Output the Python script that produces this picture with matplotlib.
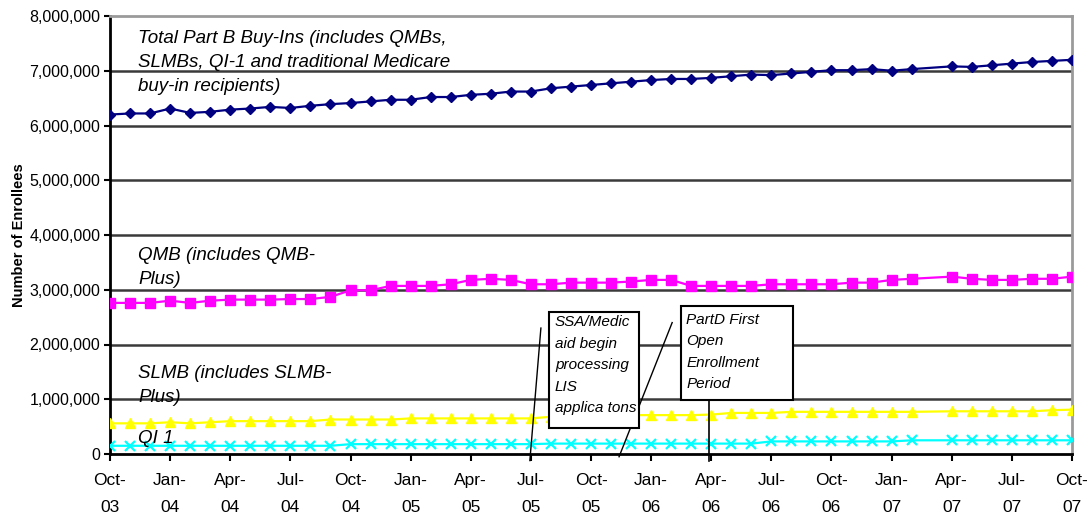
import numpy as np
import pandas as pd
import matplotlib
matplotlib.use("Agg")
import matplotlib.pyplot as plt
from matplotlib.patches import Rectangle

plt.rcParams['font.family'] = ['Liberation Sans', 'DejaVu Sans']

# monthly reports Oct-03 .. Oct-07, no report for Mar-07
all_months = pd.period_range('2003-10', '2007-10', freq='M')
months = all_months[all_months != pd.Period('2007-03', freq='M')]

total = [6.20, 6.22, 6.22, 6.31, 6.23, 6.25, 6.29, 6.31, 6.34, 6.32, 6.36, 6.39,
         6.41, 6.44, 6.47, 6.47, 6.52, 6.52, 6.56, 6.58, 6.62, 6.62, 6.68, 6.71,
         6.74, 6.77, 6.80, 6.83, 6.85, 6.85, 6.87, 6.90, 6.93, 6.92, 6.95, 6.98,
         7.01, 7.01, 7.03, 7.00, 7.03, 7.08, 7.07, 7.10, 7.13, 7.16, 7.18, 7.20]
qmb = [2.76, 2.76, 2.76, 2.80, 2.76, 2.80, 2.82, 2.82, 2.82, 2.83, 2.83, 2.87,
       2.99, 2.99, 3.07, 3.07, 3.07, 3.10, 3.18, 3.20, 3.18, 3.10, 3.10, 3.13,
       3.13, 3.13, 3.15, 3.18, 3.18, 3.07, 3.07, 3.07, 3.07, 3.10, 3.10, 3.10,
       3.10, 3.13, 3.13, 3.18, 3.20, 3.24, 3.20, 3.18, 3.18, 3.20, 3.20, 3.24]
slmb = [0.56, 0.56, 0.56, 0.58, 0.56, 0.58, 0.60, 0.60, 0.60, 0.60, 0.60, 0.63,
        0.63, 0.63, 0.63, 0.65, 0.65, 0.65, 0.65, 0.65, 0.65, 0.65, 0.68, 0.69,
        0.70, 0.70, 0.71, 0.71, 0.71, 0.71, 0.72, 0.75, 0.75, 0.75, 0.77, 0.77,
        0.77, 0.77, 0.77, 0.77, 0.77, 0.78, 0.78, 0.78, 0.78, 0.78, 0.80, 0.81]
qi1 = [0.15, 0.15, 0.15, 0.15, 0.15, 0.15, 0.15, 0.15, 0.15, 0.15, 0.15, 0.15,
       0.18, 0.18, 0.18, 0.18, 0.18, 0.18, 0.18, 0.18, 0.18, 0.18, 0.19, 0.19,
       0.19, 0.19, 0.19, 0.19, 0.19, 0.19, 0.19, 0.19, 0.19, 0.23, 0.23, 0.23,
       0.23, 0.23, 0.23, 0.23, 0.25, 0.25, 0.25, 0.25, 0.25, 0.25, 0.25, 0.25]

x = np.array([(m - all_months[0]).n for m in months])
tick_months = all_months[::3]
tick_x = [(m - all_months[0]).n for m in tick_months]
tick_labels = [m.strftime('%b-\n%y') for m in tick_months]

fig = plt.figure(figsize=(10.89, 5.16), dpi=100)
ax = fig.add_axes([110/1089, (516-454)/516, (1072-110)/1089, (454-16)/516])

ax.plot(x, np.array(total)*1e6, color='#000080', lw=1.6, marker='D', ms=5.5, zorder=5)
ax.plot(x, np.array(qmb)*1e6, color='#FF00FF', lw=1.6, marker='s', ms=6.5, zorder=5)
ax.plot(x, np.array(slmb)*1e6, color='#FFFF00', lw=1.6, marker='^', ms=7, zorder=5)
ax.plot(x, np.array(qi1)*1e6, color='#00FFFF', lw=1.6, marker='x', ms=7, mew=1.6, zorder=5)

ax.set_xlim(0, 48)
ax.set_ylim(0, 8e6)
ax.set_yticks(np.arange(0, 8.1e6, 1e6))
ax.set_yticklabels(['0'] + ['{:,.0f}'.format(v) for v in np.arange(1e6, 8.1e6, 1e6)],
                   fontsize=11.5)
ax.set_xticks(tick_x)
ax.set_xticklabels(tick_labels, fontsize=12.5, linespacing=2.0)
ax.tick_params(axis='x', length=5, width=1.5, pad=9)
ax.tick_params(axis='y', length=4, width=1.5, pad=3)

for v in range(1, 8):
    ax.axhline(v*1e6, color='#3a3a3a', lw=1.8, zorder=1)
ax.spines['top'].set_color('#9a9a9a')
ax.spines['right'].set_color('#9a9a9a')
ax.spines['top'].set_linewidth(2)
ax.spines['right'].set_linewidth(2)
ax.spines['left'].set_linewidth(2)
ax.spines['bottom'].set_linewidth(2)

ax.set_ylabel('Number of Enrollees', fontsize=10.5, fontweight='bold')
ax.yaxis.set_label_coords(-0.087, 0.5)

# series labels
lab = dict(fontsize=13.5, style='italic', va='top', ha='left', linespacing=1.52, zorder=6)
ax.text(1.4, 7.74e6, 'Total Part B Buy-Ins (includes QMBs,\nSLMBs, QI-1 and traditional Medicare\nbuy-in recipients)', **lab)
ax.text(1.4, 3.78e6, 'QMB (includes QMB-\nPlus)', **lab)
ax.text(1.4, 1.63e6, 'SLMB (includes SLMB-\nPlus)', **lab)
ax.text(1.4, 0.44e6, 'QI 1', **lab)

# event markers
ax.plot([21.5, 20.95], [2.30e6, -0.12e6], color='black', lw=1, clip_on=False, zorder=7)
ax.plot([28.05, 25.4], [2.40e6, -0.05e6], color='black', lw=1, clip_on=False, zorder=7)
ax.plot([29.9, 29.9], [0.99e6, -0.12e6], color='black', lw=1.2, clip_on=False, zorder=7)

box = dict(fontsize=11, style='italic', va='top', ha='left', linespacing=1.68, zorder=9)
ax.add_patch(Rectangle((21.9, 0.47e6), 4.5, 2.12e6, facecolor='white', edgecolor='black',
                       lw=1.5, zorder=8))
ax.text(22.2, 2.53e6, 'SSA/Medic\naid begin\nprocessing\nLIS\napplica tons', **box)
ax.add_patch(Rectangle((28.5, 0.99e6), 5.6, 1.71e6, facecolor='white', edgecolor='black',
                       lw=1.5, zorder=8))
ax.text(28.75, 2.58e6, 'PartD First\nOpen\nEnrollment\nPeriod', **box)

fig.savefig('out.png', dpi=100)
